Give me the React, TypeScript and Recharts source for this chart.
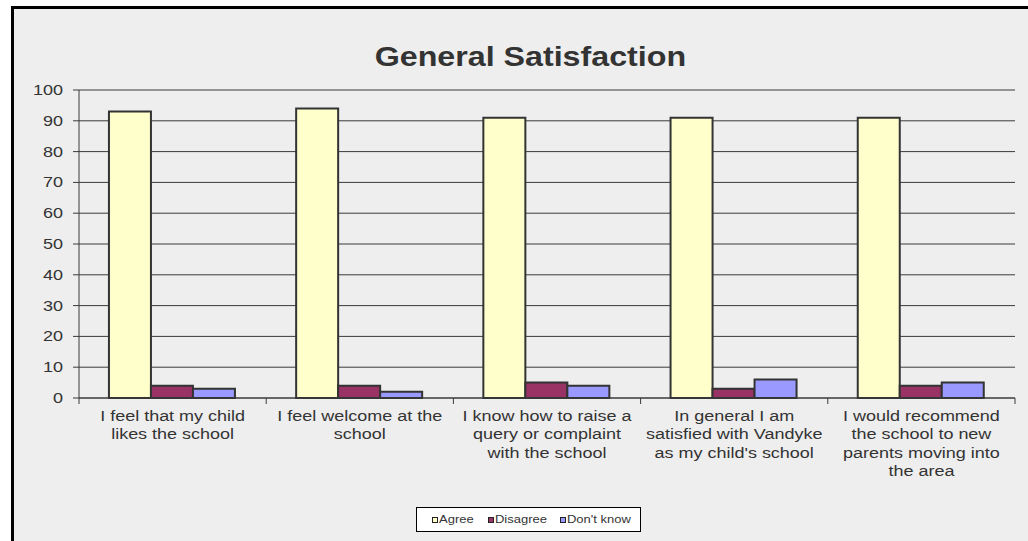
import { BarChart, Bar, XAxis, YAxis, CartesianGrid, Legend } from "recharts";

const categories = [
  "I feel that my child\nlikes the school",
  "I feel welcome at the\nschool",
  "I know how to raise a\nquery or complaint\nwith the school",
  "In general I am\nsatisfied with Vandyke\nas my child's school",
  "I would recommend\nthe school to new\nparents moving into\nthe area",
];
const agree = [93, 94, 91, 91, 91];
const disagree = [4, 4, 5, 3, 4];
const dontKnow = [3, 2, 4, 6, 5];
const yTicks = [0, 10, 20, 30, 40, 50, 60, 70, 80, 90, 100];

const series = [
  { key: "agree", name: "Agree", color: "#FFFFCC" },
  { key: "disagree", name: "Disagree", color: "#993366" },
  { key: "dontKnow", name: "Don't know", color: "#9999FF" },
];

const data = categories.map((c, i) => ({
  name: c,
  agree: agree[i],
  disagree: disagree[i],
  dontKnow: dontKnow[i],
}));

const FONT = "'Liberation Sans', Arial, sans-serif";
const STRETCH = 1.2;
const AXIS = "#3a3a3a";

// category label plus the boundary tick marks (Excel puts ticks between categories)
function CategoryTick({ x, y, payload, index, visibleTicksCount }: any) {
  const lines = String(payload.value).split("\n");
  const half = payload.offset || 0;
  const last = index === visibleTicksCount - 1;
  return (
    <g>
      <line x1={x - half} x2={x - half} y1={y} y2={y + 6} stroke={AXIS} />
      {last && <line x1={x + half} x2={x + half} y1={y} y2={y + 6} stroke={AXIS} />}
      <g transform={`translate(${x},${y}) scale(${STRETCH},1)`}>
        <text x={0} y={0} textAnchor="middle" fill="#333" fontSize={15} fontFamily={FONT}>
          {lines.map((l, i) => (
            <tspan key={i} x={0} dy={i === 0 ? 23 : 18.5}>
              {l}
            </tspan>
          ))}
        </text>
      </g>
    </g>
  );
}

function ValueTick({ x, y, payload }: any) {
  return (
    <g transform={`translate(${x},${y}) scale(${STRETCH},1)`}>
      <text x={0} y={0} dy={5} textAnchor="end" fill="#333" fontSize={15} fontFamily={FONT}>
        {payload.value}
      </text>
    </g>
  );
}

const legendLefts = [15, 71, 143];

function LegendBox() {
  return (
    <div
      style={{
        position: "relative",
        width: 223,
        height: 23,
        background: "#fff",
        border: "1px solid #000",
        fontFamily: FONT,
        fontSize: 11,
        color: "#333",
      }}
    >
      {series.map((s, i) => (
        <span
          key={s.key}
          style={{ position: "absolute", left: legendLefts[i], top: 5, display: "flex", alignItems: "center", lineHeight: "13px" }}
        >
          <span
            style={{
              display: "inline-block",
              width: 4,
              height: 4,
              background: s.color,
              border: "1.5px solid #222",
              marginRight: 1,
            }}
          />
          <span style={{ display: "inline-block", transform: "scaleX(1.18)", transformOrigin: "left center" }}>
            {s.name}
          </span>
        </span>
      ))}
    </div>
  );
}

export default function App() {
  return (
    <div style={{ position: "relative", width: 1028, height: 541, background: "#fff", overflow: "hidden" }}>
      <style>{`body{margin:0}`}</style>
      <div
        style={{
          position: "absolute",
          left: 11,
          top: 6,
          width: 1017,
          height: 535,
          background: "#EEEEEE",
          borderTop: "3px solid #000",
          borderLeft: "3px solid #000",
        }}
      />
      <div
        style={{
          position: "absolute",
          left: 14,
          top: 40,
          width: 1032,
          textAlign: "center",
          fontFamily: FONT,
          fontWeight: "bold",
          fontSize: 28,
          color: "#333",
          lineHeight: "34px",
        }}
      >
        <span style={{ display: "inline-block", transform: "scaleX(1.15)" }}>General Satisfaction</span>
      </div>
      <div style={{ position: "absolute", left: 14, top: 9 }}>
        <BarChart
          width={1014}
          height={532}
          data={data}
          margin={{ top: 81, right: 13, left: 0, bottom: 9 }}
          barCategoryGap="16%"
          barGap={0}
        >
          <CartesianGrid horizontal vertical={false} stroke={AXIS} strokeWidth={1} />
          <XAxis
            dataKey="name"
            height={109}
            stroke={AXIS}
            tickLine={false}
            tickSize={0}
            tickMargin={0}
            interval={0}
            tick={<CategoryTick />}
          />
          <YAxis
            type="number"
            domain={[0, 100]}
            ticks={yTicks}
            width={65}
            tickSize={6}
            tickMargin={10}
            stroke={AXIS}
            tick={<ValueTick />}
            interval={0}
          />
          <Legend
            verticalAlign="bottom"
            height={25}
            wrapperStyle={{ left: 402, width: 225 }}
            content={() => <LegendBox />}
          />
          {series.map((s) => (
            <Bar
              key={s.key}
              dataKey={s.key}
              name={s.name}
              fill={s.color}
              stroke="#333"
              strokeWidth={2}
              isAnimationActive={false}
            />
          ))}
        </BarChart>
      </div>
    </div>
  );
}
